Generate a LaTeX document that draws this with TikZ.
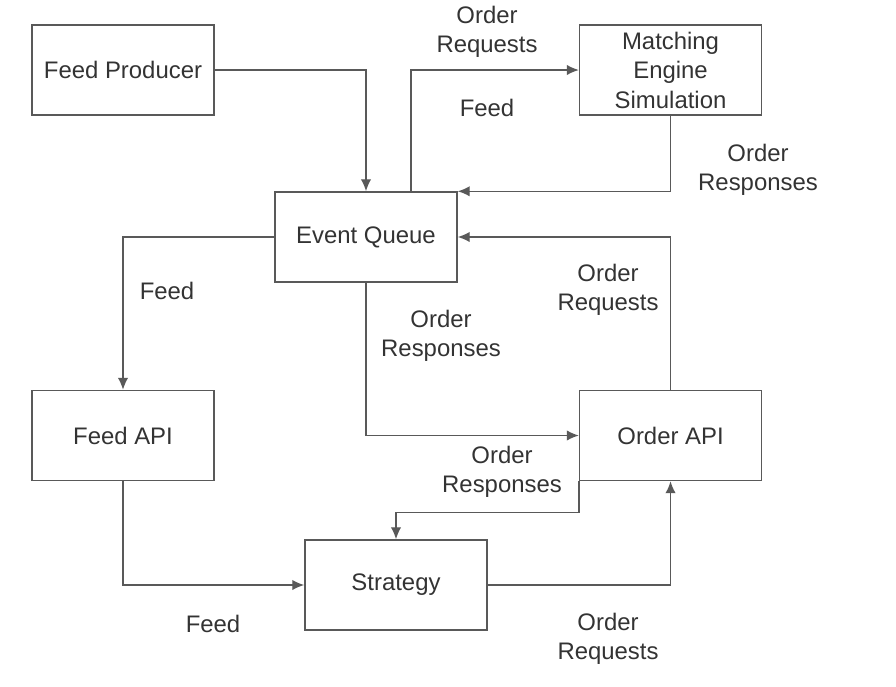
\documentclass[tikz,border=0pt]{standalone}
\usepackage{fontspec}
\setmainfont{Liberation Sans}
\usetikzlibrary{positioning,arrows.meta}

\begin{document}
\begin{tikzpicture}[x=0.025cm,y=-0.025cm,->,>={Latex[length=3mm,width=2.6mm]},line width=1pt,draw=black!65,
    main node/.style={rectangle,draw=black!65,minimum width=4.55cm,minimum height=2.25cm,inner sep=0pt,align=center,text=black!80,font=\fontsize{17}{21}\selectfont},
    flow label/.style={align=center,text=black!80,font=\fontsize{17}{21}\selectfont}]
                \useasboundingbox (0,0) rectangle (896,686);
                \node[main node] (prod) at (123,70) {Feed Producer};
                \node[main node] (match) [right=9.1cm of prod] {Matching\\Engine\\Simulation};
                \node[main node] (queue) at (366,237) {Event Queue};
                \node[main node] (feedapi) [below=6.85cm of prod] {Feed API};
                \node[main node] (orderapi) [below=6.85cm of match] {Order API};
                \node[main node] (strat) at (396,585) {Strategy};

                % labels of the flows
                \node[flow label] (lreq1) at (487,32) {Order\\Requests};
                \node[flow label] (lfeed1) at (487,108) {Feed};
                \node[flow label] (lresp1) at (758,170) {Order\\Responses};
                \node[flow label] (lfeed2) at (167,291) {Feed};
                \node[flow label] (lreq2) at (608,290) {Order\\Requests};
                \node[flow label] (lresp2) at (441,336) {Order\\Responses};
                \node[flow label] (lresp3) at (502,472) {Order\\Responses};
                \node[flow label] (lfeed3) at (213,624) {Feed};
                \node[flow label] (lreq3) at (608,639) {Order\\Requests};

                \draw (prod.east) -| (queue.north);
                \draw ([xshift=1.125cm]queue.north) |- (match.west);
                \draw (match.south) |- (queue.north east);
                \draw (queue.west) -| (feedapi.north);
                \draw (orderapi.north) |- (queue.east);
                \draw (queue.south) |- (orderapi.west);
                \draw (orderapi.south west) -- ++(0,31) -| (strat.north);
                \draw (feedapi.south) |- (strat.west);
                \draw (strat.east) -| (orderapi.south);
            \end{tikzpicture}
\end{document}
